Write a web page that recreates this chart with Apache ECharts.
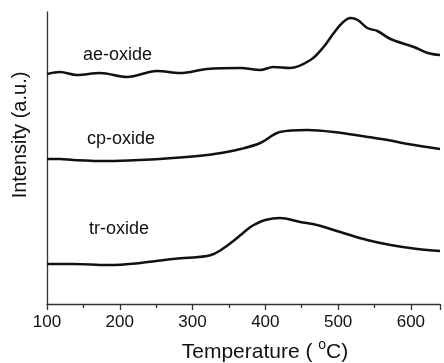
<!DOCTYPE html>
<html>
<head>
<meta charset="utf-8">
<script src="https://cdn.jsdelivr.net/npm/echarts@6/dist/echarts.min.js"></script>
<style>
  html, body { margin: 0; padding: 0; background: #fff; }
  #chart { width: 444px; height: 363px; }
</style>
</head>
<body>
<div id="chart"></div>
<script>
// values (arbitrary intensity units, curves offset)
const aeTemp = [100, 118, 141, 173, 210, 251, 283, 320, 366, 393, 411, 434, 462, 480, 494, 507, 517, 527, 540, 554, 572, 604, 623, 640];
const aeVal = [230, 232, 229, 231, 227, 233, 231, 235, 236, 234, 237, 236, 244, 257, 271, 282, 286, 284, 276, 273, 265, 257, 251, 249];

const cpTemp = [100, 118, 136, 183, 228, 273, 320, 347, 366, 393, 420, 457, 494, 541, 568, 596, 640];
const cpVal = [145, 145, 144, 143, 144, 146, 149, 152, 155, 161, 172, 174, 172, 167, 164, 160, 155];

const trTemp = [100, 136, 183, 228, 273, 300, 320, 329, 338, 347, 356, 366, 375, 384, 400, 420, 448, 471, 503, 540, 572, 609, 640];
const trVal = [40, 40, 39, 41, 45, 46.5, 48, 50, 53.5, 58, 63, 69, 74.5, 79, 84, 86, 82, 79, 72, 64, 59, 55, 53];

const seriesNames = ["ae-oxide", "cp-oxide", "tr-oxide"];

const pairs = (xs, ys) => xs.map((x, i) => [x, ys[i]]);

const chart = echarts.init(document.getElementById("chart"));
const font = "Liberation Sans, Arial, sans-serif";
const lineStyle = { color: "#111", width: 2.5 };

const mkSeries = (name, data) => ({
  name,
  type: "line",
  data,
  smooth: 0.35,
  symbol: "none",
  lineStyle,
  animation: false,
});

chart.setOption({
  backgroundColor: "#fff",
  animation: false,
  grid: { left: 47, right: 4, top: 12, bottom: 59 },
  xAxis: {
    type: "value",
    min: 100,
    max: 640,
    interval: 100,
    axisLine: { show: true, onZero: false, lineStyle: { color: "#333", width: 1.3 } },
    axisTick: { show: true, length: 6, lineStyle: { color: "#333", width: 1.3 } },
    minorTick: { show: true, splitNumber: 2, length: 4, lineStyle: { color: "#333", width: 1.3 } },
    splitLine: { show: false },
    axisLabel: { color: "#111", fontSize: 17, fontFamily: font, margin: 10, showMaxLabel: false },
  },
  yAxis: {
    type: "value",
    min: 0,
    max: 292,
    axisLine: { show: true, lineStyle: { color: "#333", width: 1.3 } },
    axisTick: { show: false },
    axisLabel: { show: false },
    splitLine: { show: false },
  },
  series: [
    mkSeries(seriesNames[0], pairs(aeTemp, aeVal)),
    mkSeries(seriesNames[1], pairs(cpTemp, cpVal)),
    mkSeries(seriesNames[2], pairs(trTemp, trVal)),
  ],
  graphic: [
    { type: "text", x: 83, y: 55, style: { text: seriesNames[0], font: "18px " + font, fill: "#111", verticalAlign: "middle" } },
    { type: "text", x: 87, y: 139, style: { text: seriesNames[1], font: "18px " + font, fill: "#111", verticalAlign: "middle" } },
    { type: "text", x: 89, y: 229, style: { text: seriesNames[2], font: "18px " + font, fill: "#111", verticalAlign: "middle" } },
    {
      type: "text", x: 265, y: 352,
      style: {
        text: "Temperature ( {sup|o}C)",
        rich: { sup: { fontSize: 14, fontFamily: font, verticalAlign: "top", padding: [0, 0, 14, 0] } },
        font: "21px " + font, fill: "#111", align: "center", verticalAlign: "middle",
      },
    },
    {
      type: "text", x: 20, y: 135, rotation: Math.PI / 2,
      style: { text: "Intensity (a.u.)", font: "20px " + font, fill: "#111", align: "center", verticalAlign: "middle" },
    },
  ],
});
</script>
</body>
</html>
